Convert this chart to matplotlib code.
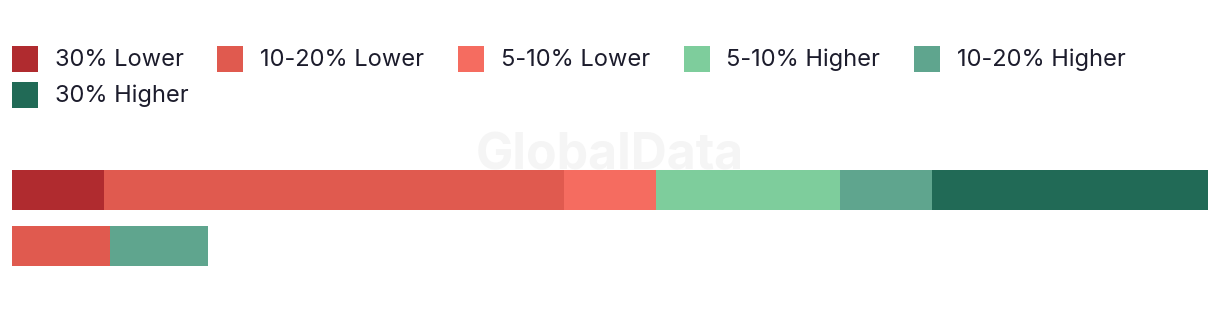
import numpy as np
import matplotlib.pyplot as plt
from matplotlib.patches import Rectangle

# share of responses per band, one list per bar (top to bottom)
categories = ['30% Lower', '10-20% Lower', '5-10% Lower',
              '5-10% Higher', '10-20% Higher', '30% Higher']
colors = ['#B02B2F', '#E05A4F', '#F56C60', '#7ECD9C', '#5FA58E', '#216A56']
row1 = [7.69, 38.46, 7.69, 15.38, 7.69, 23.09]
row2 = [0.0, 8.2, 0.0, 0.0, 8.2, 0.0]

W, H = 1220, 310
fig = plt.figure(figsize=(W / 100, H / 100), dpi=100)
plt.rcParams['font.family'] = ['Inter', 'DejaVu Sans']

# watermark
fig.text(610 / W, 1 - 156 / H, 'GlobalData', ha='center', va='center',
         fontsize=36, fontweight='bold', color='#f5f5f5', zorder=0)

ax = fig.add_axes([12 / W, (H - 274) / H, 1196 / W, 112 / H])
ax.set_xlim(0, 100)
ax.set_ylim(1.5, -0.5)
ax.axis('off')

data = np.array([row1, row2])
left = np.zeros(2)
for i, (cat, col) in enumerate(zip(categories, colors)):
    vals = data[:, i]
    ax.barh([0, 1], vals, left=left, height=40 / 56, color=col, linewidth=0)
    left += vals

# legend drawn by hand so the wrapping matches
fig.canvas.draw()
renderer = fig.canvas.get_renderer()
x = 12
rows_y = [59, 95]
row = 0
for cat, col in zip(categories, colors):
    t = fig.text(0, 0, cat, fontsize=17, color='#1c1c2c')
    tw = t.get_window_extent(renderer).width
    if x + 43 + tw > 1180:
        x = 12
        row += 1
    y = rows_y[row]
    fig.patches.append(Rectangle((x / W, 1 - (y + 13) / H), 26 / W, 26 / H,
                                 transform=fig.transFigure, color=col,
                                 linewidth=0))
    t.set_position(((x + 43) / W, 1 - (y - 2) / H))
    t.set_va('center_baseline')
    x = x + 43 + tw + 33.5

plt.savefig('out.png', dpi=100)
plt.close()
